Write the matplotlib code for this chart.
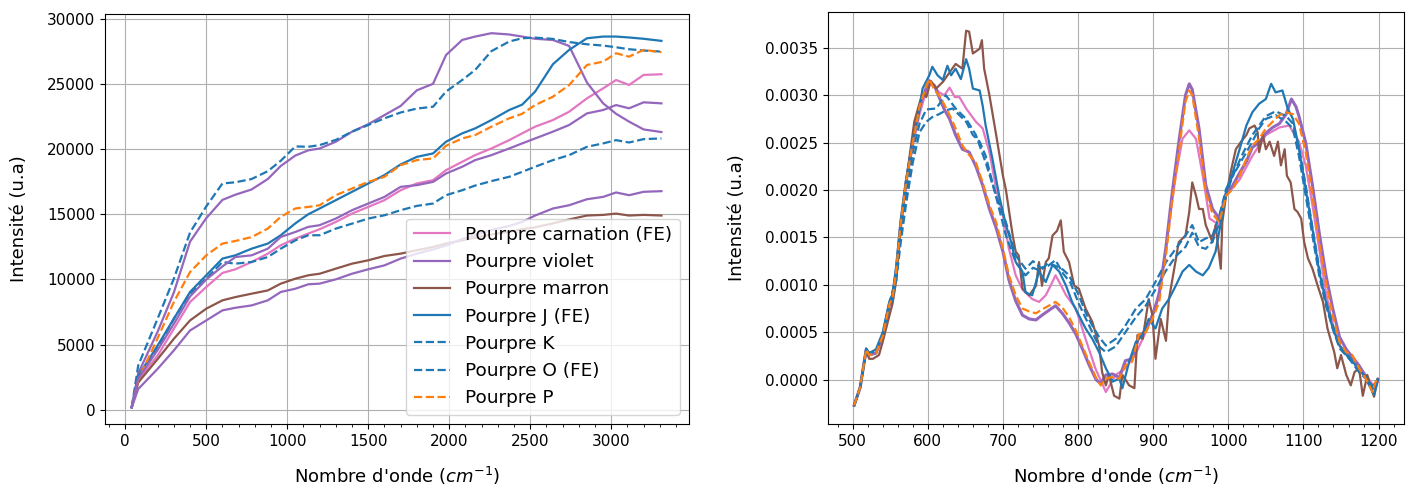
import numpy as np
import matplotlib
matplotlib.use("Agg")
import matplotlib.pyplot as plt
from matplotlib.ticker import AutoMinorLocator

plt.rcParams['font.size'] = 13
plt.rcParams['xtick.labelsize'] = 11
plt.rcParams['ytick.labelsize'] = 11

# --- spectres complets (gauche) ---
wn_full = [40, 80, 200, 300, 400, 500, 600, 680, 780, 880, 960, 1050, 1130, 1200,
           1300, 1400, 1500, 1600, 1700, 1800, 1900, 1980, 2080, 2160, 2260, 2370,
           2450, 2530, 2640, 2740, 2850, 2950, 3030, 3110, 3200, 3310]

carnation = [200, 2300, 4170, 6220, 8270, 9420, 10500, 10780, 11340, 11980, 12620, 13130,
             13520, 13850, 14410, 15050, 15560, 16080, 16840, 17360, 17610, 18380, 19020,
             19530, 20040, 20680, 21200, 21710, 22220, 22860, 23880, 24650, 25290, 24910,
             25680, 25730]
violet = [200, 2800, 6000, 9000, 12900, 14700, 16100, 16500, 16900, 17700, 18700, 19500,
          19900, 20040, 20560, 21330, 21900, 22600, 23300, 24500, 25000, 27200, 28360,
          28620, 28880, 28780, 28620, 28450, 28360, 27900, 25100, 23500, 22700, 22100,
          21500, 21300]
marron = [200, 2100, 3900, 5450, 6860, 7760, 8400, 8650, 8910, 9160, 9680, 10060, 10320,
          10440, 10830, 11210, 11470, 11800, 11980, 12240, 12490, 12750, 13000, 13200,
          13450, 13650, 13850, 14000, 14300, 14600, 14900, 14950, 15050, 14900, 14950, 14900]
pourpre_j = [200, 2600, 4940, 6990, 9040, 10320, 11600, 11850, 12360, 12750, 13390, 14300,
             15000, 15440, 16080, 16720, 17360, 18000, 18820, 19400, 19660, 20560, 21200,
             21580, 22220, 22990, 23400, 24400, 26500, 27600, 28490, 28620, 28620, 28550,
             28450, 28290]
pourpre_k = [200, 3400, 7000, 10060, 13600, 15600, 17360, 17450, 17700, 18300, 19100, 20200,
             20170, 20300, 20700, 21330, 21840, 22350, 22800, 23100, 23240, 24400, 25290,
             26060, 27500, 28240, 28490, 28540, 28440, 28200, 28030, 27930, 27800, 27650,
             27550, 27470]
pourpre_o = [200, 2500, 4680, 6990, 8900, 10060, 11340, 11210, 11340, 11720, 12360, 13000,
             13390, 13390, 13900, 14280, 14670, 14920, 15310, 15640, 15820, 16460, 16840,
             17200, 17540, 17870, 18250, 18640, 19150, 19530, 20170, 20430, 20680, 20500,
             20760, 20810]
pourpre_p = [200, 2300, 5500, 8270, 10570, 11850, 12750, 12950, 13250, 13900, 14800, 15440,
             15560, 15690, 16460, 16970, 17480, 17870, 18760, 19150, 19280, 20250, 20810,
             21070, 21710, 22350, 22700, 23370, 24010, 24900, 26440, 26700, 27340, 27080,
             27600, 27420]
violet_2 = [200, 2400, 4600, 6600, 8700, 10000, 11000, 11720, 11850, 12360, 13260, 13640,
            14030, 14160, 14670, 15310, 15820, 16330, 17100, 17230, 17480, 18120, 18640,
            19150, 19530, 20040, 20430, 20810, 21330, 21840, 22730, 22990, 23370, 23120,
            23580, 23500]
violet_3 = [200, 1600, 3150, 4560, 6090, 6860, 7630, 7830, 8010, 8400, 9040, 9290, 9630,
            9680, 10010, 10440, 10780, 11080, 11600, 11980, 12300, 12600, 13100, 13400,
            13800, 14100, 14410, 14900, 15440, 15690, 16150, 16330, 16670, 16460, 16720, 16770]

# --- zone 500-1200 normalisee (droite), valeurs en 1e-4 ---
carnation_x = [502, 510, 518, 522, 531, 540, 549, 553, 558, 564, 571, 580, 589, 598, 602, 615,
               622, 629, 636, 642, 651, 664, 673, 682, 691, 700, 708, 717, 726, 739, 748, 757,
               764, 770, 777, 784, 797, 810, 823, 837, 850, 863, 876, 890, 903, 912, 921, 930,
               939, 948, 957, 966, 975, 988, 997, 1015, 1032, 1050, 1068, 1081, 1094, 1103,
               1112, 1121, 1130, 1139, 1148, 1157, 1165, 1174, 1183, 1192, 1196, 1199]
carnation_y = [-2.7, -0.8, 3.2, 2.6, 2.8, 4.6, 8.0, 8.6, 11.5, 16.5, 20.8, 24.8, 28.0, 30.5,
               31.6, 30.3, 30.0, 30.8, 29.8, 29.8, 28.6, 27.2, 26.5, 24.0, 20.1, 17.3, 13.8,
               11.0, 9.5, 8.5, 8.2, 8.9, 10.0, 11.0, 10.0, 8.9, 7.5, 4.3, 1.2, -1.3, 0.5, 1.2,
               2.6, 5.0, 7.5, 11.0, 16.3, 21.5, 25.4, 26.3, 25.4, 21.5, 17.0, 16.3, 19.4, 21.1,
               23.6, 25.8, 26.6, 26.8, 25.1, 22.6, 18.4, 13.8, 9.2, 5.7, 3.6, 2.8, 2.2, 1.4,
               0.5, -0.5, -0.9, -0.2]

violet_x = [502, 510, 518, 522, 531, 540, 549, 553, 558, 564, 571, 580, 589, 598, 602, 609,
            615, 622, 629, 637, 646, 655, 664, 673, 682, 691, 700, 708, 717, 726, 735, 744,
            752, 761, 770, 779, 788, 797, 806, 815, 824, 830, 837, 846, 855, 863, 872, 881,
            890, 899, 908, 917, 925, 934, 943, 948, 952, 961, 970, 979, 988, 997, 1006, 1015,
            1024, 1032, 1041, 1050, 1059, 1068, 1077, 1084, 1090, 1094, 1103, 1112, 1121,
            1130, 1139, 1148, 1157, 1165, 1174, 1183, 1192, 1199]
violet_y = [-2.7, -0.8, 3.2, 2.6, 2.8, 4.6, 8.0, 8.6, 11.5, 16.5, 20.8, 25.0, 28.8, 30.8,
            31.5, 31.0, 29.8, 28.5, 27.5, 25.8, 24.3, 24.0, 22.5, 20.5, 18.0, 16.0, 13.5,
            10.5, 8.3, 6.8, 6.4, 6.3, 6.8, 7.3, 7.8, 7.0, 6.0, 4.8, 3.2, 1.5, 0.0, -0.4, 0.5,
            0.6, 0.2, 2.0, 2.2, 4.5, 5.2, 6.8, 9.0, 14.0, 19.5, 25.0, 30.0, 31.2, 30.6, 26.5,
            20.5, 18.0, 17.0, 19.6, 20.5, 21.8, 23.0, 24.5, 25.0, 26.0, 26.6, 27.0, 28.0,
            29.6, 28.8, 27.8, 25.0, 20.5, 15.5, 11.0, 7.5, 4.5, 3.2, 2.4, 1.5, 0.3, -1.0, 0.0]

marron_x = [502, 510, 518, 522, 527, 535, 540, 549, 553, 558, 564, 571, 582, 593, 598, 604,
            611, 620, 629, 637, 646, 651, 655, 660, 669, 672, 675, 682, 691, 700, 704, 713,
            717, 721, 726, 735, 744, 748, 752, 757, 761, 766, 772, 777, 781, 788, 795, 801,
            810, 819, 828, 832, 837, 841, 848, 855, 859, 868, 875, 879, 886, 894, 899, 903,
            910, 917, 921, 928, 934, 943, 948, 952, 957, 961, 966, 970, 979, 983, 990, 992,
            997, 1004, 1010, 1017, 1024, 1028, 1035, 1039, 1041, 1046, 1050, 1055, 1061,
            1066, 1070, 1075, 1078, 1083, 1088, 1092, 1097, 1101, 1106, 1112, 1119, 1126,
            1132, 1137, 1141, 1145, 1150, 1157, 1163, 1168, 1174, 1179, 1185, 1190, 1194, 1199]
marron_y = [-2.7, -0.8, 3.0, 2.2, 2.2, 2.6, 4.0, 6.8, 8.0, 10.5, 16.0, 20.8, 27.2, 30.3,
            29.8, 31.5, 30.7, 31.4, 32.4, 33.3, 32.8, 36.8, 36.7, 34.4, 34.9, 35.8, 32.8,
            30.0, 25.8, 21.5, 20.0, 15.2, 13.5, 13.1, 9.6, 8.9, 9.9, 12.4, 9.9, 12.4, 12.8,
            15.2, 15.7, 16.8, 13.5, 12.4, 9.9, 9.6, 7.5, 6.1, 3.6, 0.8, -0.6, 0.5, -1.7,
            -2.0, 0.5, -0.6, -0.9, 4.7, 4.3, 8.5, 6.8, 2.2, 6.4, 4.1, 8.5, 11.7, 14.5, 15.2,
            17.7, 20.8, 19.4, 18.0, 18.0, 16.3, 14.5, 16.3, 11.7, 16.6, 19.4, 22.2, 24.3,
            25.1, 25.8, 26.5, 26.8, 26.1, 24.0, 25.8, 24.3, 25.1, 23.6, 25.1, 22.6, 24.3,
            21.5, 20.8, 18.0, 17.7, 17.0, 14.5, 12.8, 11.7, 9.9, 8.2, 5.4, 4.0, 2.9, 1.2,
            2.6, 0.5, -0.6, 0.8, 1.2, -1.7, 0.5, -0.9, -1.8, 0.1]

j_x = [502, 510, 518, 522, 531, 540, 549, 553, 558, 564, 571, 580, 589, 593, 602, 606, 613,
       620, 626, 631, 637, 644, 651, 655, 660, 669, 673, 677, 686, 695, 704, 711, 717, 726,
       730, 739, 748, 757, 766, 775, 784, 792, 801, 810, 819, 828, 837, 846, 855, 859, 868,
       877, 886, 894, 903, 912, 921, 930, 939, 948, 957, 966, 974, 983, 990, 997, 1006, 1015,
       1024, 1032, 1041, 1050, 1057, 1063, 1072, 1079, 1086, 1094, 1103, 1112, 1121, 1130,
       1139, 1148, 1161, 1174, 1183, 1194, 1199]
j_y = [-2.7, -0.8, 3.3, 2.8, 3.2, 5.0, 8.3, 9.0, 12.0, 16.8, 21.0, 25.3, 28.5, 30.7, 32.1,
       33.0, 32.1, 31.6, 33.1, 32.1, 32.8, 31.7, 33.8, 32.8, 30.7, 30.5, 28.9, 26.8, 23.3,
       19.4, 16.3, 14.5, 12.4, 11.4, 9.2, 8.9, 11.4, 10.3, 12.1, 11.4, 9.9, 8.2, 6.8, 5.4,
       4.3, 2.9, 1.2, -0.2, 0.1, -0.9, 1.9, 4.0, 4.7, 6.4, 5.4, 7.5, 8.5, 9.9, 11.4, 12.1,
       11.4, 11.0, 11.8, 13.5, 16.5, 19.8, 21.9, 24.3, 26.8, 28.2, 29.1, 29.6, 31.2, 30.3,
       30.5, 28.6, 27.5, 24.4, 20.1, 15.9, 11.4, 8.2, 5.4, 3.6, 2.2, 1.2, 0.1, -1.6, 0.0]

k_x = [502, 510, 518, 522, 531, 540, 549, 553, 558, 564, 571, 580, 589, 598, 606, 615, 624,
       633, 642, 651, 660, 669, 677, 686, 695, 704, 717, 730, 740, 750, 760, 770, 780, 788,
       801, 810, 819, 828, 837, 850, 863, 877, 890, 903, 917, 930, 943, 952, 961, 970, 979,
       988, 997, 1006, 1019, 1032, 1041, 1050, 1063, 1077, 1086, 1094, 1103, 1112, 1121,
       1130, 1139, 1148, 1161, 1174, 1183, 1192, 1199]
k_y = [-2.7, -0.8, 3.2, 2.8, 3.0, 4.8, 7.8, 8.4, 10.5, 14.5, 18.5, 22.9, 26.1, 27.2, 27.7,
       28.0, 28.4, 28.6, 27.9, 27.2, 25.8, 25.1, 23.6, 20.8, 18.0, 15.2, 12.4, 11.0, 11.8,
       11.5, 12.3, 12.0, 11.6, 11.0, 8.9, 7.1, 5.7, 4.5, 3.6, 4.3, 5.7, 7.5, 8.5, 10.3,
       12.4, 13.8, 15.2, 16.3, 14.5, 14.9, 15.2, 17.3, 20.1, 21.5, 23.3, 25.1, 26.5, 27.5,
       27.9, 27.2, 26.5, 23.6, 19.4, 15.2, 11.0, 7.8, 5.4, 3.3, 2.2, 0.8, 0.1, -0.9, 0.1]

o_x = [502, 510, 518, 522, 531, 540, 549, 558, 564, 571, 580, 589, 598, 611, 624, 637, 651,
       664, 677, 691, 704, 717, 730, 740, 750, 760, 770, 780, 790, 801, 810, 819, 828, 837,
       850, 863, 877, 890, 903, 917, 930, 943, 952, 961, 970, 979, 988, 997, 1006, 1019,
       1032, 1041, 1050, 1063, 1077, 1086, 1094, 1103, 1112, 1121, 1130, 1139, 1148, 1161,
       1174, 1183, 1192, 1199]
o_y = [-2.7, -0.8, 3.2, 2.8, 3.0, 4.8, 8.0, 11.0, 15.5, 19.5, 24.0, 27.0, 28.5, 28.6, 30.0,
       28.6, 27.5, 25.8, 22.9, 19.4, 16.6, 13.1, 11.7, 12.5, 11.8, 12.0, 12.6, 11.2, 10.2,
       8.0, 6.5, 5.0, 3.5, 2.9, 3.5, 5.0, 6.6, 7.8, 9.5, 11.5, 13.0, 14.0, 15.5, 14.0, 13.8,
       14.6, 16.5, 19.5, 21.5, 23.8, 25.8, 26.8, 27.8, 28.3, 27.8, 27.0, 24.5, 20.5, 16.0,
       11.8, 8.3, 5.8, 3.6, 2.4, 1.0, 0.3, -0.7, 0.0]

p_x = [502, 510, 518, 522, 531, 540, 549, 553, 558, 564, 571, 580, 589, 598, 602, 609, 615,
       622, 629, 637, 646, 655, 664, 673, 682, 691, 700, 708, 717, 726, 735, 744, 752, 761,
       770, 779, 788, 797, 806, 815, 824, 830, 837, 846, 855, 863, 872, 881, 890, 899, 908,
       917, 925, 934, 943, 948, 952, 961, 970, 979, 988, 997, 1006, 1015, 1024, 1032, 1041,
       1050, 1059, 1068, 1077, 1086, 1094, 1103, 1112, 1121, 1130, 1139, 1148, 1157, 1165,
       1174, 1183, 1192, 1196, 1199]
p_y = [-2.7, -0.8, 3.2, 2.6, 2.8, 4.6, 8.0, 8.6, 11.5, 16.5, 20.8, 25.0, 28.8, 31.0, 31.7,
       30.5, 30.0, 29.0, 27.9, 26.5, 24.7, 23.7, 22.9, 20.8, 18.4, 16.6, 13.8, 11.0, 8.9,
       7.5, 7.2, 7.0, 7.4, 7.8, 8.2, 7.6, 6.6, 5.2, 3.5, 1.8, 0.2, -0.6, 0.1, 0.3, 0.1, 1.5,
       1.9, 4.8, 5.0, 6.4, 8.2, 13.1, 18.7, 24.0, 29.3, 30.5, 30.0, 25.5, 19.8, 17.5, 16.6,
       19.4, 20.1, 21.5, 23.3, 24.7, 25.4, 26.5, 27.2, 27.9, 28.2, 28.0, 27.0, 24.0, 19.4,
       14.5, 10.3, 6.8, 4.0, 2.9, 2.6, 1.2, 0.1, -1.3, -0.2, -0.1]

labels = ["Pourpre carnation (FE)", "Pourpre violet", "Pourpre marron", "Pourpre J (FE)",
          "Pourpre K", "Pourpre O (FE)", "Pourpre P"]

fig, (ax1, ax2) = plt.subplots(1, 2, figsize=(14.16, 4.86), dpi=100)
ax1.set_position([105/1416, 62/486, 584/1416, 410/486])
ax2.set_position([828/1416, 62/486, 576/1416, 412/486])

lw = 1.6
ax1.plot(wn_full, carnation, color='tab:pink', lw=lw, label=labels[0])
ax1.plot(wn_full, violet, color='tab:purple', lw=lw, label=labels[1])
ax1.plot(wn_full, marron, color='tab:brown', lw=lw, label=labels[2])
ax1.plot(wn_full, pourpre_j, color='tab:blue', lw=lw, label=labels[3])
ax1.plot(wn_full, pourpre_k, color='tab:blue', ls='--', lw=lw, label=labels[4])
ax1.plot(wn_full, pourpre_o, color='tab:blue', ls='--', lw=lw, label=labels[5])
ax1.plot(wn_full, pourpre_p, color='tab:orange', ls='--', lw=lw, label=labels[6])
ax1.plot(wn_full, violet_2, color='tab:purple', lw=lw)
ax1.plot(wn_full, violet_3, color='tab:purple', lw=lw)

ax1.set_xlim(-125, 3480)
ax1.set_ylim(-1080, 30350)
ax1.set_xlabel("Nombre d'onde ($cm^{-1}$)", labelpad=12)
ax1.set_ylabel("Intensité (u.a)", labelpad=14)
ax1.grid(True)
ax1.xaxis.set_minor_locator(AutoMinorLocator())
ax1.legend(loc='lower right', borderaxespad=0.5, fontsize=13.3)

e4 = 1e-4
ax2.plot(carnation_x, np.array(carnation_y) * e4, color='tab:pink', lw=lw)
ax2.plot(violet_x, np.array(violet_y) * e4, color='tab:purple', lw=2.2)
ax2.plot(marron_x, np.array(marron_y) * e4, color='tab:brown', lw=lw)
ax2.plot(j_x, np.array(j_y) * e4, color='tab:blue', lw=lw)
ax2.plot(k_x, np.array(k_y) * e4, color='tab:blue', ls='--', lw=lw)
ax2.plot(o_x, np.array(o_y) * e4, color='tab:blue', ls='--', lw=lw)
ax2.plot(p_x, np.array(p_y) * e4, color='tab:orange', ls='--', lw=lw)

ax2.set_xlabel("Nombre d'onde ($cm^{-1}$)", labelpad=12)
ax2.set_ylabel("Intensité (u.a)", labelpad=14)
ax2.grid(True)
ax2.xaxis.set_minor_locator(AutoMinorLocator())

fig.savefig("out.png", dpi=100)
